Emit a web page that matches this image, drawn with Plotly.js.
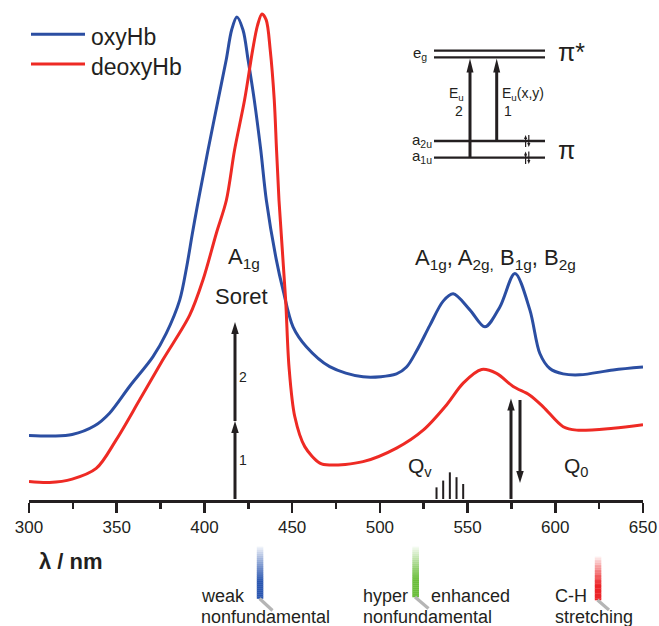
<!DOCTYPE html>
<html>
<head>
<meta charset="utf-8">
<script src="https://cdn.plot.ly/plotly-3.0.1.min.js"></script>
<style>html,body{margin:0;padding:0;background:#fff;}#chart{width:659px;height:626px;}</style>
</head>
<body>
<div id="chart"></div>
<script>
// ---------- data ----------
const oxyX = [300, 313.6, 324.6, 337.4, 345.9, 357.3, 370.6, 378.3, 385.9, 389.9, 393.0, 396.0, 399.0, 401.8, 407.8, 412.4, 415.5, 418.5, 422.0, 424.9, 428.4, 432.1, 435.3, 441, 444.8, 450.5, 458.1, 471.4, 490.4, 509.5, 515.2, 520.9, 528.5, 536.1, 541.8, 551.3, 559.9, 568.4, 577, 585.5, 591.2, 596.9, 604.5, 614, 633, 650];
const oxyY = [0.131, 0.130, 0.133, 0.151, 0.177, 0.232, 0.293, 0.342, 0.410, 0.479, 0.545, 0.605, 0.662, 0.715, 0.823, 0.905, 0.967, 0.994, 0.967, 0.905, 0.823, 0.720, 0.616, 0.493, 0.431, 0.355, 0.314, 0.273, 0.252, 0.258, 0.272, 0.305, 0.358, 0.408, 0.423, 0.390, 0.355, 0.396, 0.465, 0.390, 0.300, 0.269, 0.258, 0.256, 0.266, 0.272];

const deoX = [300, 311.7, 324.6, 338.3, 349.7, 363, 376.3, 391.6, 399.2, 406.8, 412.5, 417.2, 422.9, 427.5, 430.3, 432.8, 435.2, 437.5, 439.8, 441.1, 442.5, 446.3, 448.2, 451.5, 457.2, 465.8, 471.4, 490.4, 509.5, 524.7, 538, 547.5, 558, 566.5, 576, 585.5, 593.1, 604.5, 612.2, 633, 650];
const deoY = [0.036, 0.034, 0.041, 0.063, 0.122, 0.204, 0.287, 0.379, 0.452, 0.548, 0.616, 0.720, 0.823, 0.926, 0.977, 1.0, 0.988, 0.926, 0.823, 0.720, 0.616, 0.410, 0.273, 0.170, 0.108, 0.074, 0.070, 0.077, 0.105, 0.142, 0.194, 0.239, 0.267, 0.259, 0.232, 0.214, 0.190, 0.149, 0.142, 0.146, 0.153];

const qvX = [532.3, 536.1, 539.9, 543.7, 547.5];
const qvH = [0.024, 0.038, 0.055, 0.045, 0.031];

const seriesNames = ['oxyHb', 'deoxyHb'];
const tickVals = [300, 350, 400, 450, 500, 550, 600, 650];

// ---------- geometry helpers (pixel -> paper) ----------
const W = 659, H = 626;
const L = 29, R = 643, TOP = 0, BOT = 500;
const yRange = [-1/485, 499/485];
const xp = px => (px - L) / (R - L);
const yp = py => (BOT - py) / (BOT - TOP);

const INK = '#231f20';
const BLUE = '#2b4ea2';
const RED = '#ee2a24';
const FONT = 'Liberation Sans, Arial, Helvetica, sans-serif';

const shapes = [];
const annotations = [];

function line(px0, py0, px1, py1, color, w) {
  shapes.push({type: 'line', xref: 'paper', yref: 'paper', x0: xp(px0), y0: yp(py0), x1: xp(px1), y1: yp(py1), line: {color: color, width: w}});
}
function head(px, pyTip, d, hl, hw, color) {
  const base = pyTip + d * hl;
  shapes.push({type: 'path', xref: 'paper', yref: 'paper',
    path: `M ${xp(px)},${yp(pyTip)} L ${xp(px - hw/2)},${yp(base)} L ${xp(px + hw/2)},${yp(base)} Z`,
    fillcolor: color || INK, line: {width: 0}});
}
function varrow(px, pyFrom, pyTo, w, hl, hw, color) {
  color = color || INK;
  const d = Math.sign(pyFrom - pyTo);
  const base = pyTo + d * hl;
  line(px, pyFrom, px, base - d, color, w);
  head(px, pyTo, d, hl, hw, color);
}
function text(t, px, py, size, opts) {
  opts = opts || {};
  annotations.push(Object.assign({xref: 'paper', yref: 'paper', x: xp(px), y: yp(py), text: t, showarrow: false,
    xanchor: 'center', yanchor: 'middle', font: {family: FONT, size: size, color: INK}}, opts));
}
function gradBar(px0, px1, pyTop, pyBot, rgb) {
  const N = 26;
  const hgt = (pyBot - pyTop) / N;
  for (let i = 0; i < N; i++) {
    const t = (i + 0.5) / N;
    const a = Math.min(1, 0.05 + t / 0.7);
    shapes.push({type: 'rect', xref: 'paper', yref: 'paper', x0: xp(px0), x1: xp(px1),
      y0: yp(pyTop + i * hgt), y1: yp(pyTop + (i + 1) * hgt + 0.3),
      fillcolor: `rgba(${rgb},${a.toFixed(3)})`, line: {width: 0}});
  }
}

// ---------- legend (drawn) ----------
line(31, 34.3, 85, 34.3, BLUE, 3);
line(31, 64, 85, 64, RED, 3);
text(seriesNames[0], 89.3, 37, 23, {xanchor: 'left'});
text(seriesNames[1], 89.3, 66.5, 23, {xanchor: 'left'});

// ---------- energy level diagram ----------
[50.7, 57.3, 141, 157.7].forEach(py => line(434, py, 545, py, INK, 2.3));
varrow(470, 157.7, 58.5, 3, 14, 7);
varrow(496.7, 141, 58.5, 3, 14, 7);
[[135, 147], [151.5, 164]].forEach(s => {
  varrow(525.6, s[1], s[0], 1.2, 4, 3.2);
  varrow(528.8, s[0], s[1], 1.2, 4, 3.2);
});
text('e<sub>g</sub>', 420, 54, 15);
text('a<sub>2u</sub>', 422.5, 140.5, 15);
text('a<sub>1u</sub>', 422.5, 157, 15);
text('π*', 571, 52, 25);
text('π', 566, 150, 25);
text('E<sub>u</sub>', 456.5, 93.5, 14);
text('2', 458.5, 111, 14);
text('E<sub>u</sub>(x,y)', 522.5, 93.5, 14);
text('1', 507.5, 111, 14);

// ---------- Soret ----------
text('A<sub>1g</sub>', 243.5, 258, 22);
text('Soret', 241.5, 296, 22);
varrow(235, 499, 421, 3, 12, 7.5);
varrow(235, 421, 322, 3, 12, 7.5);
text('2', 243, 377, 14);
text('1', 243, 460, 14);

// ---------- Q bands ----------
text('A<sub>1g</sub>, A<sub>2g,</sub> B<sub>1g</sub>, B<sub>2g</sub>', 495.5, 259, 22);
text('Q<sub>v</sub>', 406, 467, 21, {xanchor: 'left'});
text('Q<sub>0</sub>', 561.5, 467, 21, {xanchor: 'left'});
varrow(511, 499, 398.5, 3, 12, 7.5);
varrow(520, 400, 483, 3, 12, 7.5);

// ---------- below the axis ----------
text('<b>λ / nm</b>', 36.5, 561, 22, {xanchor: 'left'});
gradBar(256.8, 263.3, 546.7, 598.5, '42,86,176');
gradBar(412.3, 419, 546.7, 597, '108,190,60');
gradBar(594.8, 601.3, 556.7, 600, '236,36,40');
line(259.5, 598.5, 272.5, 610.5, '#b5b5b5', 3.2);
line(415, 597, 428.5, 608.5, '#b5b5b5', 3.2);
line(597.5, 600, 609, 610, '#b5b5b5', 3.2);
text('weak', 199, 596, 18, {xanchor: 'left'});
text('nonfundamental', 199, 617.5, 18, {xanchor: 'left'});
text('hyper', 360.5, 595.5, 18, {xanchor: 'left'});
text('enhanced', 429, 595.5, 18, {xanchor: 'left'});
text('nonfundamental', 360.5, 617.5, 18, {xanchor: 'left'});
text('C-H', 553, 595.5, 18, {xanchor: 'left'});
text('stretching', 553, 617.5, 18, {xanchor: 'left'});

// ---------- traces ----------
const traces = [
  {x: oxyX, y: oxyY, name: seriesNames[0], type: 'scatter', mode: 'lines',
   line: {color: BLUE, width: 3, shape: 'spline', smoothing: 0.9}, showlegend: false, hoverinfo: 'skip'},
  {x: deoX, y: deoY, name: seriesNames[1], type: 'scatter', mode: 'lines',
   line: {color: RED, width: 3, shape: 'spline', smoothing: 0.9}, showlegend: false, hoverinfo: 'skip'},
  {x: qvX, y: qvH, name: 'Qv', type: 'bar', width: 1.15, marker: {color: INK, line: {width: 0}},
   showlegend: false, hoverinfo: 'skip'}
];

const layout = {
  width: W, height: H,
  margin: {l: L, r: W - R, t: TOP, b: H - BOT, pad: 0},
  paper_bgcolor: '#ffffff', plot_bgcolor: '#ffffff',
  showlegend: false,
  font: {family: FONT, color: INK},
  xaxis: {
    range: [300, 650], tickvals: tickVals, ticktext: tickVals.map(String),
    showline: true, linecolor: INK, linewidth: 2.5,
    ticks: 'outside', ticklen: 10, tickwidth: 2.5, tickcolor: INK,
    tickfont: {family: FONT, size: 17, color: INK},
    minor: {dtick: 25, tick0: 300, ticks: 'outside', ticklen: 6, tickwidth: 2.5, tickcolor: INK, showgrid: false},
    showgrid: false, zeroline: false, fixedrange: true
  },
  yaxis: {range: yRange, visible: false, showgrid: false, zeroline: false, fixedrange: true},
  shapes: shapes,
  annotations: annotations
};

Plotly.newPlot('chart', traces, layout, {staticPlot: true, displayModeBar: false});
</script>
</body>
</html>
